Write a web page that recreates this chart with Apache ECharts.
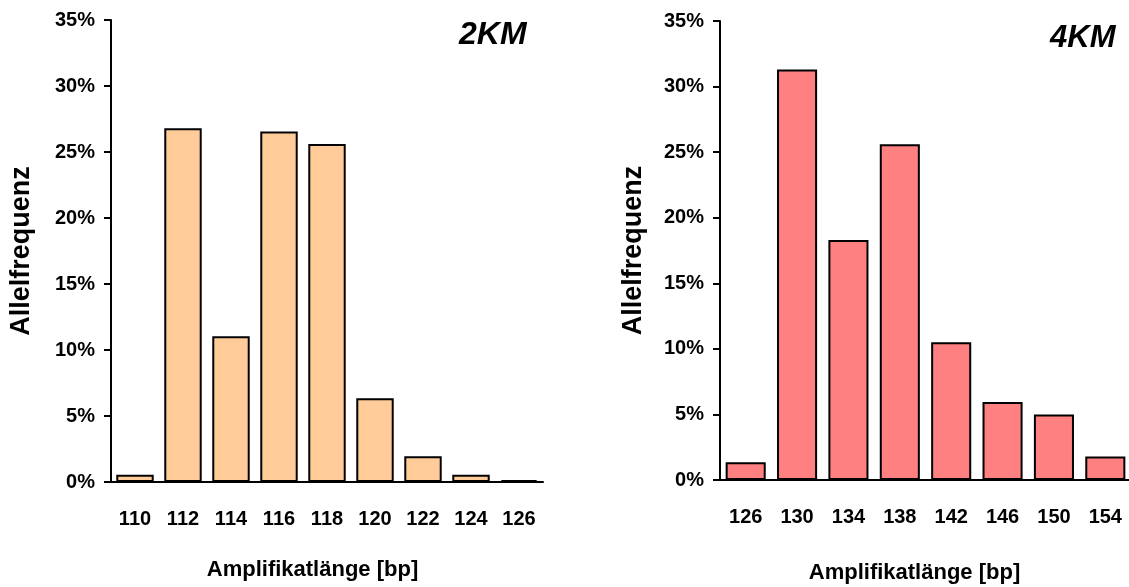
<!DOCTYPE html>
<html style="height: 100%">
<head>
  <meta charset="UTF-8" />
  <title>Allelfrequenz</title>
  <script src="https://cdn.jsdelivr.net/npm/echarts@6/dist/echarts.min.js"></script>
</head>
<body style="height: 100%; margin: 0; background: #fff">
  <div id="container" style="width: 1129px; height: 587px"></div>
  <script>
    // 2KM
    const cats2 = ['110', '112', '114', '116', '118', '120', '122', '124', '126'];
    const vals2 = [0.55, 26.8, 11.05, 26.55, 25.6, 6.35, 1.95, 0.55, 0.15];
    // 4KM
    const cats4 = ['126', '130', '134', '138', '142', '146', '150', '154'];
    const vals4 = [1.35, 31.3, 18.3, 25.6, 10.5, 5.95, 5.0, 1.8];

    const font = "'Liberation Sans', Arial, sans-serif";

    function xAx(grid, data, padRight, gap) {
      return {
        type: 'category', gridIndex: grid, data: data,
        axisLine: { lineStyle: { color: '#000', width: 2 } },
        axisTick: { show: false },
        axisLabel: { interval: 0, margin: 27, color: '#000', fontSize: 20, fontWeight: 'bold', fontFamily: font },
        name: 'Amplifikatlänge [bp]', nameLocation: 'middle', nameGap: gap,
        nameTextStyle: { color: '#000', fontSize: 22, fontWeight: 'bold', fontFamily: font, padding: [0, padRight, 0, 0] }
      };
    }
    function yAx(grid, gap) {
      return {
        type: 'value', gridIndex: grid, min: 0, max: 35, interval: 5,
        splitLine: { show: false },
        axisLine: { show: true, lineStyle: { color: '#000', width: 2 } },
        axisTick: { show: true, length: 7, lineStyle: { color: '#000', width: 2 } },
        axisLabel: { formatter: '{value}%', margin: 16, color: '#000', fontSize: 20, fontWeight: 'bold', fontFamily: font, padding: [8, 0, 0, 0] },
        name: 'Allelfrequenz', nameLocation: 'middle', nameGap: gap, nameRotate: 90,
        nameTextStyle: { color: '#000', fontSize: 27, fontWeight: 'bold', fontFamily: font }
      };
    }

    const chart = echarts.init(document.getElementById('container'), null, { renderer: 'canvas' });
    chart.setOption({
      animation: false,
      title: [
        { text: '2KM', left: 459, top: 19, padding: 0, textStyle: { fontSize: 32, fontStyle: 'italic', fontWeight: 'bold', fontFamily: font, color: '#000' } },
        { text: '4KM', left: 1050, top: 23, padding: 0, textStyle: { fontSize: 31, fontStyle: 'italic', fontWeight: 'bold', fontFamily: font, color: '#000' } }
      ],
      grid: [
        { left: 111, top: 20, width: 432, height: 462, outerBoundsMode: 'none', containLabel: false },
        { left: 720, top: 21, width: 411, height: 459, outerBoundsMode: 'none', containLabel: false }
      ],
      xAxis: [xAx(0, cats2, 29, 77), xAx(1, cats4, 22, 82)],
      yAxis: [yAx(0, 76), yAx(1, 73)],
      series: [
        {
          type: 'bar', xAxisIndex: 0, yAxisIndex: 0, data: vals2, barCategoryGap: '22%',
          itemStyle: { color: '#FFCC99', borderColor: '#000', borderWidth: 2 }
        },
        {
          type: 'bar', xAxisIndex: 1, yAxisIndex: 1, data: vals4, barCategoryGap: '22%',
          itemStyle: { color: '#FF8080', borderColor: '#000', borderWidth: 2 }
        }
      ]
    });
  </script>
</body>
</html>
